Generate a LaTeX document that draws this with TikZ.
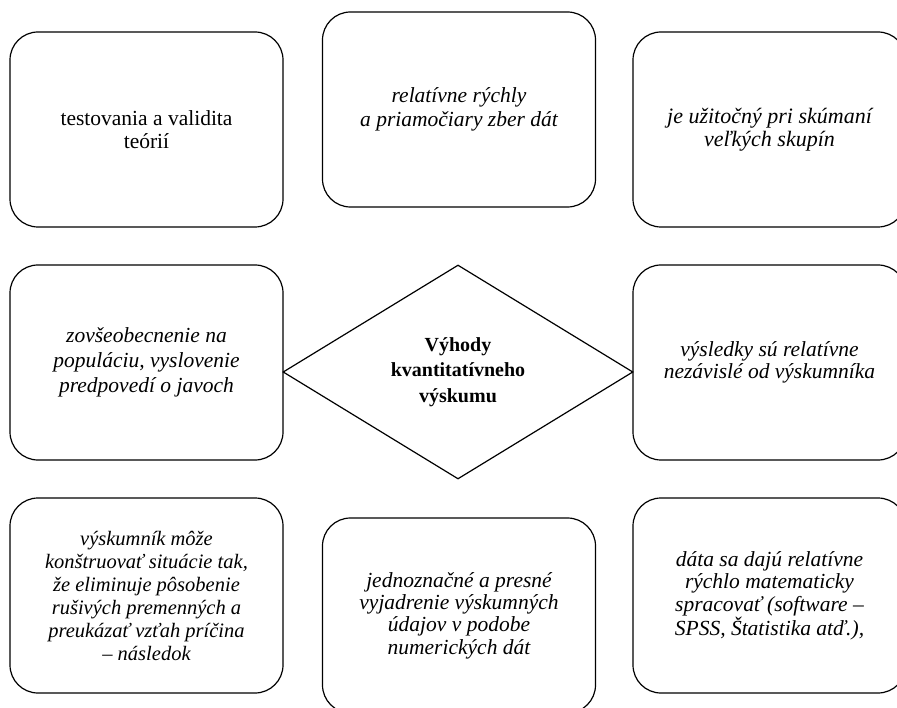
\documentclass[tikz,border=0pt]{standalone}
\usepackage{fontspec}
\setmainfont{Liberation Serif}
\usetikzlibrary{shapes.geometric}
\begin{document}
\begin{tikzpicture}[x=1pt,y=-1pt,
  box/.style={draw, line width=1.2pt, rounded corners=28pt, minimum width=273pt, minimum height=195pt, inner sep=0pt, align=center, font=\fontsize{21.5}{23.5}\selectfont},
  itbox/.style={box, font=\fontsize{21.5}{23.5}\selectfont\itshape},
  centre/.style={draw, diamond, line width=1.2pt, minimum width=350pt, minimum height=214pt, inner sep=0pt, align=center, font=\fontsize{20}{25.5}\selectfont\bfseries}]
\useasboundingbox (0,0) rectangle (897,708);
\node[box] (tl) at (146.5,129.5) {testovania a validita\\teórií};
\node[itbox, font=\fontsize{21.5}{24.5}\selectfont\itshape] (tm) at (459,109.5) {relatívne rýchly\\a priamočiary zber dát};
\node[itbox, font=\fontsize{22}{23.5}\selectfont\itshape] (tr) at (769.5,129.5) {je užitočný pri skúmaní\\veľkých skupín};
\node[itbox, font=\fontsize{21.5}{25}\selectfont\itshape] (ml) at (146.5,362.5) {zovšeobecnenie na\\populáciu, vyslovenie\\predpovedí o javoch};
\node[itbox, font=\fontsize{21.5}{21.5}\selectfont\itshape] (mr) at (769.5,362.5) {výsledky sú relatívne\\nezávislé od výskumníka};
\node[centre] (c) at (458,372) {Výhody\\kvantitatívneho\\výskumu};
\node[itbox, font=\fontsize{20.5}{23}\selectfont\itshape] (bl) at (146.5,595.5) {výskumník môže\\konštruovať situácie tak,\\že eliminuje pôsobenie\\rušivých premenných a\\preukázať vzťah príčina\\– následok};
\node[itbox, font=\fontsize{21.5}{22.3}\selectfont\itshape] (bm) at (459,615.5) {jednoznačné a presné\\vyjadrenie výskumných\\údajov v podobe\\numerických dát};
\node[itbox, font=\fontsize{21.5}{22.5}\selectfont\itshape] (br) at (769.5,595.5) {dáta sa dajú relatívne\\rýchlo matematicky\\spracovať (software –\\SPSS, Štatistika atď.),};
\end{tikzpicture}
\end{document}
